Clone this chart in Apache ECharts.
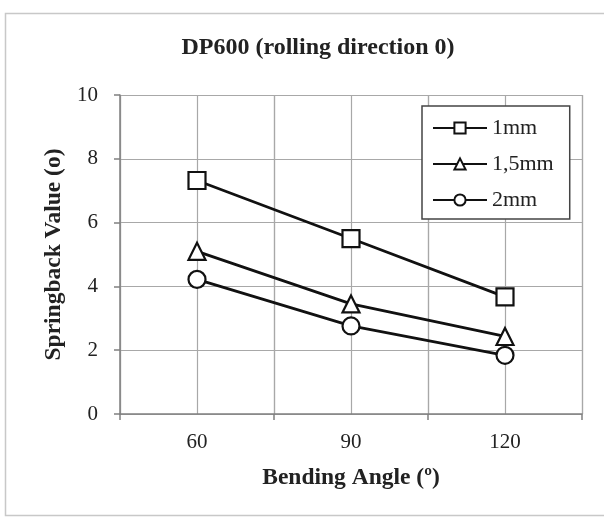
<!DOCTYPE html>
<html><head><meta charset="utf-8">
<script src="https://cdn.jsdelivr.net/npm/echarts@6/dist/echarts.min.js"></script>
<style>html,body{margin:0;padding:0;background:#fff}#c{width:604px;height:519px}</style>
</head><body><div id="c"></div>
<script>
const categories = ['60', '90', '120'];
const s1mm = [7.32, 5.5, 3.67];
const s15mm = [5.1, 3.45, 2.43];
const s2mm = [4.22, 2.76, 1.84];
const yTicks = [0, 2, 4, 6, 8, 10];
const titleText = 'DP600 (rolling direction 0)';

const font = 'Liberation Serif';
const chart = echarts.init(document.getElementById('c'));
const mk = (name, data, symbol, size) => ({
  name, type: 'line', data, symbol, symbolSize: size, xAxisIndex: 0,
  lineStyle: { color: '#111', width: 2.8 },
  itemStyle: { color: '#fff', borderColor: '#111', borderWidth: 2.2 },
  emphasis: { disabled: true }
});
chart.setOption({
  animation: false,
  backgroundColor: '#fff',
  graphic: [
    { type: 'rect', shape: { x: 5.5, y: 13.5, width: 610, height: 502 },
      style: { fill: 'none', stroke: '#c8c8c8', lineWidth: 1.5 }, silent: true },
    { type: 'text', x: 318, y: 48, silent: true,
      style: { text: titleText, fontFamily: font, fontWeight: 'bold', fontSize: 24, fill: '#222',
        align: 'center', verticalAlign: 'middle' } }
  ],
  grid: { left: 120, right: 22, top: 95, bottom: 105 },
  legend: {
    orient: 'vertical', left: 422, top: 106,
    backgroundColor: '#fff', borderColor: '#444', borderWidth: 1.5,
    padding: [11, 16, 8, 10], itemGap: 14, itemWidth: 54, itemHeight: 14,
    textStyle: { fontFamily: font, fontSize: 22, color: '#222' },
    data: ['1mm', '1,5mm', '2mm']
  },
  xAxis: [{
    type: 'category', data: categories, boundaryGap: true,
    name: 'Bending Angle (º)', nameLocation: 'middle', nameGap: 52,
    nameTextStyle: { fontFamily: font, fontWeight: 'bold', fontSize: 23.5, color: '#222' },
    axisLine: { lineStyle: { color: '#808080', width: 1.5 } },
    axisTick: { show: true, length: 6, lineStyle: { color: '#808080', width: 1.5 } },
    axisLabel: { fontFamily: font, fontSize: 21, color: '#222', margin: 18 },
    splitLine: { show: true, lineStyle: { color: '#a8a8a8', width: 1.2 } }
  }, {
    type: 'value', min: 0, max: 3, interval: 0.5, position: 'bottom',
    axisLine: { show: false }, axisTick: { show: false }, axisLabel: { show: false },
    splitLine: { show: true, lineStyle: { color: '#a8a8a8', width: 1.2 } }
  }],
  yAxis: {
    type: 'value', min: yTicks[0], max: yTicks[yTicks.length - 1], interval: 2,
    name: 'Springback Value (o)', nameLocation: 'middle', nameGap: 53,
    nameTextStyle: { fontFamily: font, fontWeight: 'bold', fontSize: 23.5, color: '#222' },
    axisLine: { show: true, lineStyle: { color: '#808080', width: 1.5 } },
    axisTick: { show: true, length: 6, lineStyle: { color: '#808080', width: 1.5 } },
    axisLabel: { fontFamily: font, fontSize: 21, color: '#222', margin: 22 },
    splitLine: { show: true, lineStyle: { color: '#a8a8a8', width: 1.2 } }
  },
  series: [
    mk('1mm', s1mm, 'rect', 17),
    mk('1,5mm', s15mm, 'triangle', 17),
    mk('2mm', s2mm, 'circle', 17)
  ]
});
</script></body></html>
